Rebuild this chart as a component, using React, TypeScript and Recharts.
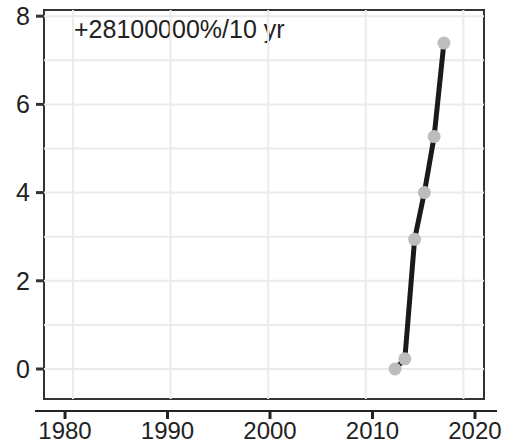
import React from 'react';
import {
  LineChart,
  Line,
  XAxis,
  YAxis,
  ReferenceLine,
  ReferenceArea,
  Customized,
} from 'recharts';

// yearly values
const years = [2013, 2014, 2015, 2016, 2017, 2018];
const values = [0, 0.23, 2.94, 4.0, 5.27, 7.39];

// axis + grid breaks
const yTicks = [0, 2, 4, 6, 8];
const yGrid = [0, 1, 2, 3, 4, 5, 6, 7, 8];
const xGrid = [1980, 1990, 2000, 2010, 2020];
const axisYears = [1980, 1990, 2000, 2010, 2020];

const growthLabel = '+28100000%/10 yr';

const data = years.map((year, i) => ({ year, value: values[i] }));

const FONT = '"Liberation Sans", Arial, Helvetica, sans-serif';
const X_DOMAIN: [number, number] = [1977.03, 2022.11];
const Y_DOMAIN: [number, number] = [-0.68, 8.14];
const AXIS_DOMAIN: [number, number] = [1977.07, 2022.15];

const tickStyle = { fontFamily: FONT, fontSize: 25, fill: '#222' };

function GrowthNote() {
  return (
    <text x={74} y={38} fontFamily={FONT} fontSize={25} fill="#222">
      {growthLabel}
    </text>
  );
}

export default function App() {
  return (
    <div style={{ position: 'absolute', left: 0, top: 0, width: 508, height: 447, background: '#fff' }}>
      <LineChart
        width={508}
        height={400}
        data={data}
        margin={{ top: 10, right: 24, bottom: 1, left: 0 }}
      >
        <XAxis type="number" dataKey="year" domain={X_DOMAIN} allowDataOverflow hide />
        <YAxis
          type="number"
          domain={Y_DOMAIN}
          allowDataOverflow
          ticks={yTicks}
          width={44}
          axisLine={false}
          tickSize={8}
          tickMargin={6}
          tickLine={{ stroke: '#333', strokeWidth: 3 }}
          tick={tickStyle}
        />
        {yGrid.map((v) => (
          <ReferenceLine key={'h' + v} y={v} stroke="#ebebeb" strokeWidth={2} />
        ))}
        {xGrid.map((v) => (
          <ReferenceLine key={'v' + v} x={v} stroke="#ebebeb" strokeWidth={2} />
        ))}
        <ReferenceArea
          x1={X_DOMAIN[0]}
          x2={X_DOMAIN[1]}
          y1={Y_DOMAIN[0]}
          y2={Y_DOMAIN[1]}
          fill="none"
          fillOpacity={0}
          stroke="#333"
          strokeWidth={2}
        />
        {/* grey points sit under the trend line */}
        <Line
          dataKey="value"
          stroke="none"
          dot={{ r: 6.5, fill: '#bdbdbd', stroke: 'none' }}
          activeDot={false}
          isAnimationActive={false}
        />
        <Line
          dataKey="value"
          stroke="#1a1a1a"
          strokeWidth={5}
          strokeLinejoin="round"
          dot={false}
          activeDot={false}
          isAnimationActive={false}
        />
        <Customized component={<GrowthNote />} />
      </LineChart>
      <div style={{ position: 'absolute', left: 0, top: 400 }}>
        <LineChart
          width={508}
          height={47}
          data={data}
          margin={{ top: 10, right: 11, bottom: 0, left: 35 }}
        >
          <XAxis
            type="number"
            dataKey="year"
            domain={AXIS_DOMAIN}
            allowDataOverflow
            ticks={axisYears}
            height={36}
            axisLine={{ stroke: '#222', strokeWidth: 2 }}
            tickSize={8}
            tickMargin={3}
            tickLine={{ stroke: '#222', strokeWidth: 3 }}
            tick={{ ...tickStyle, fontSize: 24 }}
          />
        </LineChart>
      </div>
    </div>
  );
}
